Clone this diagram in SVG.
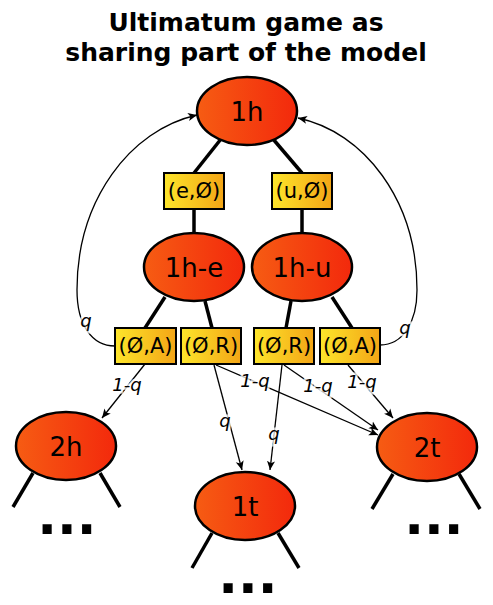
<svg xmlns="http://www.w3.org/2000/svg" width="493" height="605" viewBox="0 0 493 605">
<defs>
<linearGradient id="gRed" x1="0" y1="0" x2="1" y2="0">
<stop offset="0" stop-color="#f65c13"/>
<stop offset="1" stop-color="#f3290c"/>
</linearGradient>
<linearGradient id="gYel" x1="0" y1="0" x2="1" y2="0">
<stop offset="0" stop-color="#fde52b"/>
<stop offset="1" stop-color="#f3a516"/>
</linearGradient>
<marker id="arr" viewBox="0 0 10 10" refX="10" refY="5" markerWidth="9" markerHeight="9" markerUnits="userSpaceOnUse" orient="auto">
<path d="M0,0.5 L10,5 L0,9.5 L2.5,5 z" fill="#000"/>
</marker>
</defs>
<style>
.title{font-family:"DejaVu Sans",sans-serif;font-weight:bold;font-size:25px;text-anchor:middle;fill:#000}
.node ellipse{fill:url(#gRed);stroke:#000;stroke-width:2.5}
.node text{font-family:"DejaVu Sans",sans-serif;font-size:26px;text-anchor:middle;fill:#000}
.box rect{fill:url(#gYel);stroke:#000;stroke-width:2}
.box text{font-family:"DejaVu Sans",sans-serif;font-size:21px;text-anchor:middle;fill:#000}
.edge{stroke:#000;stroke-width:3.5;fill:none}
.arrow{stroke:#000;stroke-width:1.3;fill:none;marker-end:url(#arr)}
.lbl{font-family:"DejaVu Sans",sans-serif;font-style:italic;font-size:18px;text-anchor:middle;fill:#000;stroke:#fff;stroke-opacity:0.75;stroke-width:5;paint-order:stroke}
.dots{font-family:"DejaVu Sans",sans-serif;font-weight:bold;font-size:52px;text-anchor:middle;fill:#000}
</style>
<rect width="493" height="605" fill="#fff"/>
<text class="title" x="246" y="31">Ultimatum game as</text>
<text class="title" x="246" y="61">sharing part of the model</text>

<g id="connectors">
<line class="edge" x1="194" y1="173" x2="221" y2="139"/>
<line class="edge" x1="302" y1="173" x2="273" y2="139"/>
<line class="edge" x1="194" y1="209" x2="194" y2="233"/>
<line class="edge" x1="302" y1="209" x2="302" y2="233"/>
<line class="edge" x1="165" y1="297" x2="145" y2="328"/>
<line class="edge" x1="205" y1="301" x2="212" y2="328"/>
<line class="edge" x1="291" y1="301" x2="286" y2="328"/>
<line class="edge" x1="332" y1="297" x2="352" y2="328"/>
<line class="edge" x1="33" y1="473" x2="13" y2="507"/>
<line class="edge" x1="100" y1="473" x2="120" y2="507"/>
<line class="edge" x1="212" y1="533" x2="192" y2="568"/>
<line class="edge" x1="278" y1="533" x2="299" y2="568"/>
<line class="edge" x1="393" y1="474" x2="372" y2="509"/>
<line class="edge" x1="459" y1="474" x2="480" y2="509"/>

<path class="arrow" d="M115,346 C92,346 77,325 77,290 C77,200 130,130 197,115"/>
<path class="arrow" d="M380,345 C403,345 417,322 417,290 C417,200 364,132 298,118"/>
<line class="arrow" x1="145" y1="364" x2="102" y2="418"/>
<line class="arrow" x1="214" y1="365" x2="242" y2="470"/>
<line class="arrow" x1="216" y1="365" x2="378" y2="435"/>
<line class="arrow" x1="282" y1="365" x2="270" y2="470"/>
<line class="arrow" x1="284" y1="365" x2="378" y2="430"/>
<line class="arrow" x1="348" y1="365" x2="393" y2="418"/>

<text class="lbl" x="86" y="327">q</text>
<text class="lbl" x="405" y="334">q</text>
<text class="lbl" x="127" y="391">1-q</text>
<text class="lbl" x="225" y="427">q</text>
<text class="lbl" x="255" y="387">1-q</text>
<text class="lbl" x="274" y="440">q</text>
<text class="lbl" x="318" y="392">1-q</text>
<text class="lbl" x="362" y="388">1-q</text>
</g>

<g id="n1h" class="node"><ellipse cx="247" cy="111" rx="50" ry="34"/><text x="247" y="121">1h</text></g>
<g id="n1he" class="node"><ellipse cx="194" cy="267" rx="50" ry="34"/><text x="194" y="277">1h-e</text></g>
<g id="n1hu" class="node"><ellipse cx="302" cy="267" rx="50" ry="34"/><text x="302" y="277">1h-u</text></g>
<g id="n2h" class="node"><ellipse cx="66" cy="446" rx="50" ry="34"/><text x="66" y="456">2h</text></g>
<g id="n1t" class="node"><ellipse cx="245" cy="506" rx="50" ry="34"/><text x="245" y="516">1t</text></g>
<g id="n2t" class="node"><ellipse cx="427" cy="447" rx="50" ry="34"/><text x="427" y="457">2t</text></g>

<g id="b_e" class="box"><rect x="164" y="173" width="60" height="36"/><text x="194" y="198">(e,Ø)</text></g>
<g id="b_u" class="box"><rect x="272" y="173" width="60" height="36"/><text x="302" y="198">(u,Ø)</text></g>
<g id="b_AL" class="box"><rect x="115" y="328" width="61" height="36"/><text x="145.5" y="353">(Ø,A)</text></g>
<g id="b_RL" class="box"><rect x="181" y="328" width="60" height="36"/><text x="211" y="353">(Ø,R)</text></g>
<g id="b_RR" class="box"><rect x="254" y="328" width="60" height="36"/><text x="284" y="353">(Ø,R)</text></g>
<g id="b_AR" class="box"><rect x="320" y="328" width="60" height="36"/><text x="350" y="353">(Ø,A)</text></g>

<g id="dots">
<text class="dots" x="67" y="534">...</text>
<text class="dots" x="248" y="593">...</text>
<text class="dots" x="434" y="534">...</text>
</g>
</svg>
